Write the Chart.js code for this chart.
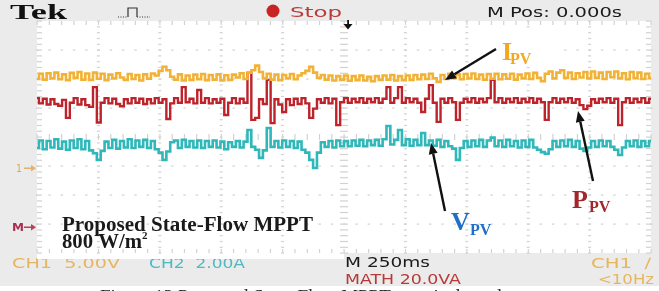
<!DOCTYPE html>
<html>
<head>
<meta charset="utf-8">
<script src="https://cdn.jsdelivr.net/npm/chart.js@4.4.0/dist/chart.umd.min.js"></script>
<style>
html, body { margin: 0; padding: 0; background: #fff; }
#wrap { width: 659px; height: 291px; }
</style>
</head>
<body>
<div id="wrap"><canvas id="scope" width="659" height="291"></canvas></div>
<script>
// trace values, in screen divisions above the bottom edge (8 divisions tall)
const ipvTrace = [
  6.00,6.18,5.98,6.20,6.02,6.22,5.99,6.16,5.96,6.21,6.04,6.24,5.98,6.19,5.97,6.22,6.01,6.18,5.96,6.15,
  6.02,6.20,6.05,5.97,6.17,6.00,6.14,5.95,6.16,6.01,6.19,6.12,6.28,6.42,6.30,6.08,5.98,6.16,5.95,6.12,
  5.97,6.15,5.99,6.17,5.96,6.14,5.98,6.16,5.95,6.13,5.97,6.15,6.05,6.20,6.00,6.22,6.30,6.46,6.24,6.02,
  6.18,5.98,6.15,5.96,6.14,6.02,6.17,5.99,6.12,6.20,6.28,6.42,6.22,6.04,6.14,5.98,6.12,5.95,6.10,5.97,
  6.12,5.94,6.10,5.96,6.12,5.95,6.08,5.92,6.10,5.97,6.12,5.98,6.14,5.95,6.10,5.96,6.12,5.97,6.14,5.99,
  6.15,6.00,6.18,6.02,5.90,6.14,6.00,6.18,6.03,6.16,5.99,6.17,6.02,6.19,6.00,6.15,5.98,6.17,6.01,6.18,
  5.99,6.16,6.01,6.18,5.98,6.15,6.02,6.19,6.00,6.21,6.04,5.92,6.18,6.26,6.02,6.22,6.30,6.04,6.22,6.00,
  6.20,6.05,6.24,6.02,6.26,6.04,6.22,6.00,6.24,6.06,6.26,6.02,6.20,5.99,6.24,6.03,6.22,6.00,6.18,6.04
];
const ppvTrace = [
  5.34,5.16,5.32,5.12,5.30,5.14,5.08,5.28,4.66,5.18,5.34,5.12,5.30,5.10,5.04,5.72,4.50,5.18,5.34,5.16,
  5.32,5.14,5.06,5.30,5.16,5.34,5.18,5.32,5.14,5.30,5.16,5.34,5.18,5.30,4.62,5.16,5.34,5.18,5.72,5.20,
  5.32,5.16,5.62,5.18,5.34,5.16,5.30,5.18,5.32,4.76,5.18,5.34,5.16,5.32,5.18,6.21,4.59,4.66,5.30,5.14,
  5.97,4.48,5.30,5.12,4.86,5.30,5.10,5.32,5.14,5.34,5.16,4.66,4.98,5.30,5.18,5.34,5.16,5.32,4.41,5.20,
  5.34,5.18,5.32,5.20,5.34,5.18,5.32,5.20,5.34,5.18,5.32,5.72,5.18,5.34,5.72,5.18,5.34,5.20,5.32,5.18,
  4.86,5.32,5.79,5.18,4.52,5.32,5.18,5.34,5.20,4.59,5.18,5.32,5.20,5.34,5.18,5.32,5.20,5.34,5.97,5.20,
  5.34,5.18,5.32,5.20,5.34,5.18,5.32,5.20,5.34,5.18,5.32,5.20,4.59,5.20,5.34,5.18,5.32,5.20,5.34,5.18,
  5.30,5.10,4.96,5.08,5.30,5.18,5.32,5.20,5.34,5.18,5.32,4.41,5.20,5.34,5.18,5.32,5.20,5.34,5.18,5.32
];
const vpvTrace = [
  3.62,3.88,3.58,3.86,3.64,3.92,3.60,3.84,3.56,3.88,3.62,3.92,3.58,3.86,3.54,3.44,3.21,3.52,3.84,3.62,
  3.90,3.60,3.86,3.64,3.92,3.62,3.88,3.66,3.90,3.62,3.86,3.58,3.46,3.21,3.50,3.82,3.88,3.62,3.90,3.66,
  3.86,3.64,3.88,3.62,3.86,3.66,3.88,3.64,3.84,3.58,3.82,3.66,3.86,3.64,3.84,4.24,3.66,3.56,3.28,3.54,
  4.31,3.66,3.86,3.64,3.88,3.66,3.86,3.62,3.84,3.56,3.46,3.21,2.93,3.46,3.82,3.66,3.86,3.64,3.88,3.68,
  3.86,3.68,3.88,3.70,3.90,3.68,3.88,3.72,3.90,3.70,3.92,4.38,3.74,3.90,4.24,3.72,3.92,3.70,3.90,3.72,
  4.14,3.72,3.88,3.70,3.90,3.66,3.86,3.68,3.60,3.21,3.62,3.86,3.66,3.88,3.68,3.90,3.66,3.88,3.98,3.68,
  3.88,3.66,3.90,3.68,3.86,3.64,3.88,3.66,3.90,3.64,3.56,3.48,3.42,3.58,3.86,3.66,3.88,3.68,3.90,3.66,
  3.86,3.60,3.52,3.64,3.86,3.66,3.88,3.68,3.86,3.66,3.56,3.38,3.64,3.86,3.68,3.88,3.66,3.86,3.68,3.86
];

// time base: 250 ms/div, 10 divisions, trigger in the middle
const msPerDiv = 250;
const divsX = 10;
const divsY = 8;
const t0 = -msPerDiv * divsX / 2;
const sampleMs = ipvTrace.map((_, i) => t0 + i * msPerDiv * divsX / (ipvTrace.length - 1));

const pts = arr => arr.map((v, i) => ({ x: sampleMs[i], y: v }));

function label(ctx, txt, x, y, font, color, width) {
    ctx.save();
    ctx.font = font;
    ctx.fillStyle = color;
    ctx.textBaseline = 'alphabetic';
    const w = ctx.measureText(txt).width;
    ctx.translate(x, y);
    if (width) ctx.scale(width / w, 1);
    ctx.fillText(txt, 0, 0);
    ctx.restore();
}

function arrow(ctx, x1, y1, x2, y2) {
    const a = Math.atan2(y2 - y1, x2 - x1);
    const hl = 11, hw = 4.5;
    const bx = x2 - hl * Math.cos(a), by = y2 - hl * Math.sin(a);
    ctx.save();
    ctx.strokeStyle = '#111';
    ctx.fillStyle = '#111';
    ctx.lineWidth = 2.4;
    ctx.beginPath();
    ctx.moveTo(x1, y1);
    ctx.lineTo(bx, by);
    ctx.stroke();
    ctx.beginPath();
    ctx.moveTo(x2, y2);
    ctx.lineTo(bx + hw * Math.sin(a), by - hw * Math.cos(a));
    ctx.lineTo(bx - hw * Math.sin(a), by + hw * Math.cos(a));
    ctx.closePath();
    ctx.fill();
    ctx.restore();
}

// grey screen frame, status bars and the graticule
const screenFrame = {
    id: 'screenFrame',
    beforeDraw(chart) {
        const { ctx, chartArea: ca } = chart;
        ctx.save();
        ctx.fillStyle = '#ebebeb';
        ctx.fillRect(0, 0, chart.width, chart.height);
        ctx.fillStyle = '#fff';
        ctx.fillRect(0, 286, chart.width, 5);

        // bottom status line
        const sf = '14px "DejaVu Sans"';
        label(ctx, 'CH1  5.00V', 12, 268, sf, '#e6b65e', 108);
        label(ctx, 'CH2  2.00A', 149, 268, sf, '#4fb9c2', 96);
        label(ctx, 'M 250ms', 345, 267, sf, '#1a1a1a', 85);
        label(ctx, 'MATH 20.0VA', 345, 284, sf, '#b63a3a', 116);
        label(ctx, 'CH1  \u2215', 591, 268, sf, '#e6b65e', 60);
        label(ctx, '<10Hz', 598, 284, sf, '#e6b65e', 56);

        ctx.fillStyle = '#fff';
        ctx.fillRect(ca.left, ca.top, ca.right - ca.left, ca.bottom - ca.top);
        ctx.fillRect(ca.left, ca.bottom, 307, 6);

        // top status line
        label(ctx, 'Tek', 10, 19, 'bold 22px "Liberation Serif"', '#111', 57);
        ctx.strokeStyle = '#333';
        ctx.lineWidth = 1.2;
        ctx.setLineDash([1, 1.5]);
        ctx.beginPath();
        ctx.moveTo(118, 17); ctx.lineTo(128, 17);
        ctx.moveTo(137, 17); ctx.lineTo(150, 17);
        ctx.stroke();
        ctx.setLineDash([]);
        ctx.beginPath();
        ctx.moveTo(128, 17); ctx.lineTo(128, 8); ctx.lineTo(137, 8); ctx.lineTo(137, 17);
        ctx.stroke();
        ctx.fillStyle = '#c92424';
        ctx.beginPath();
        ctx.arc(273, 11, 6.5, 0, Math.PI * 2);
        ctx.fill();
        label(ctx, 'Stop', 290, 17, sf, '#b83c3c', 52);
        label(ctx, 'M Pos: 0.000s', 487, 17, sf, '#1a1a1a', 135);
        ctx.restore();
    },
    beforeDatasetsDraw(chart) {
        const { ctx, chartArea: ca, scales: { x, y } } = chart;
        ctx.save();
        ctx.fillStyle = '#d2d2d2';
        const cx = x.getPixelForValue(0), cy = y.getPixelForValue(divsY / 2);
        for (let i = 0; i <= divsX * 5; i++) {
            const px = x.getPixelForValue(t0 + i * msPerDiv / 5);
            for (let j = 1; j < divsY; j++) {
                if (j === divsY / 2) continue;
                ctx.fillRect(px - 1, y.getPixelForValue(j) - 0.5, 2.5, 1.2);
            }
            ctx.fillRect(px - 0.5, cy - 3, 1.2, 6);
            ctx.fillRect(px - 0.5, ca.top, 1.2, 4);
            ctx.fillRect(px - 0.5, ca.bottom - 4, 1.2, 4);
        }
        for (let j = 0; j <= divsY * 5; j++) {
            const py = y.getPixelForValue(j / 5);
            for (let i = 1; i < divsX; i++) {
                if (i === divsX / 2) continue;
                ctx.fillRect(x.getPixelForValue(t0 + i * msPerDiv) - 1.5, py - 0.5, 3, 1.2);
            }
            ctx.fillRect(cx - 4, py - 0.5, 8, 1.2);
            ctx.fillRect(ca.left, py - 0.5, 5, 1.2);
            ctx.fillRect(ca.right - 5, py - 0.5, 5, 1.2);
        }
        ctx.restore();
    },
    afterDraw(chart) {
        const { ctx } = chart;
        ctx.save();
        // trigger position marker
        ctx.fillStyle = '#111';
        ctx.fillRect(347.2, 20, 1.8, 6);
        ctx.beginPath();
        ctx.moveTo(343.5, 24); ctx.lineTo(352.5, 24); ctx.lineTo(348, 29.5);
        ctx.closePath();
        ctx.fill();

        // channel ground markers
        label(ctx, '1', 16, 172, '10px "DejaVu Sans"', '#e2a850', 6);
        ctx.fillStyle = '#e6b070';
        ctx.fillRect(24, 167.5, 8, 1.5);
        ctx.beginPath();
        ctx.moveTo(31, 165); ctx.lineTo(36, 168.2); ctx.lineTo(31, 171.5); ctx.closePath();
        ctx.fill();
        label(ctx, 'M', 12, 231, 'bold 10px "DejaVu Sans"', '#a8304e', 12);
        ctx.fillStyle = '#b8405a';
        ctx.fillRect(24, 226.5, 8, 1.5);
        ctx.beginPath();
        ctx.moveTo(31, 224); ctx.lineTo(36, 227.2); ctx.lineTo(31, 230.5); ctx.closePath();
        ctx.fill();

        // annotations
        ctx.fillStyle = '#fff';
        ctx.fillRect(478, 30, 78, 33);
        const big = 'bold 26px "Liberation Serif"';
        const sub = 'bold 16px "Liberation Serif"';
        label(ctx, 'I', 502, 60, big, '#f2a81c');
        label(ctx, 'PV', 510, 64, sub, '#f2a81c');
        label(ctx, 'P', 572, 208, big, '#a3262a');
        label(ctx, 'PV', 589, 212, sub, '#a3262a');
        label(ctx, 'V', 451, 230, big, '#1f6fc6');
        label(ctx, 'PV', 470, 235, sub, '#1f6fc6');
        arrow(ctx, 496, 49, 445, 80);
        arrow(ctx, 593, 181, 578, 111);
        arrow(ctx, 445, 211, 431, 143);

        label(ctx, 'Proposed State-Flow MPPT', 62, 231, 'bold 20px "Liberation Serif"', '#1a1a1a', 251);
        label(ctx, '800 W/m', 62, 248, 'bold 20px "Liberation Serif"', '#1a1a1a', 80);
        label(ctx, '2', 142, 239, 'bold 11px "Liberation Serif"', '#1a1a1a');

        // figure caption, cut by the image edge
        label(ctx, 'Figure 13 Proposed State-Flow MPPT practical results', 100, 301, '16px "Liberation Serif"', '#222', 415);
        ctx.restore();
    }
};

new Chart(document.getElementById('scope'), {
    type: 'line',
    data: {
        datasets: [
            { label: 'IPV', data: pts(ipvTrace), borderColor: '#f2b235', borderWidth: 2.6, stepped: 'middle', pointRadius: 0 },
            { label: 'VPV', data: pts(vpvTrace), borderColor: '#2fb7b9', borderWidth: 2.6, stepped: 'middle', pointRadius: 0 },
            { label: 'PPV', data: pts(ppvTrace), borderColor: '#bd232a', borderWidth: 2.4, stepped: 'middle', pointRadius: 0 }
        ]
    },
    options: {
        responsive: false,
        animation: false,
        devicePixelRatio: 1,
        layout: { padding: { left: 37, top: 21, right: 8, bottom: 38 } },
        plugins: { legend: { display: false }, tooltip: { enabled: false } },
        scales: {
            x: { type: 'linear', display: false, min: t0, max: -t0 },
            y: { type: 'linear', display: false, min: 0, max: divsY }
        }
    },
    plugins: [screenFrame]
});
</script>
</body>
</html>
